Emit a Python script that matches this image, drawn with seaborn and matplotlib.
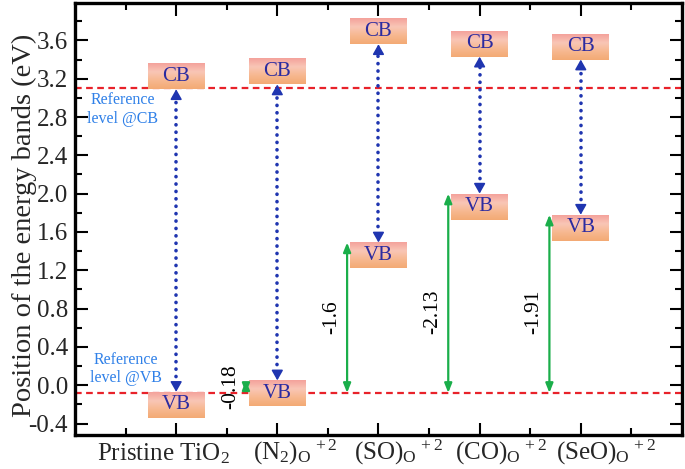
import numpy as np
import pandas as pd
import matplotlib
matplotlib.use('Agg')
import matplotlib.pyplot as plt
from matplotlib.colors import LinearSegmentedColormap
from matplotlib.ticker import MultipleLocator, FixedLocator, NullFormatter
import seaborn as sns

# ---------------- data ----------------
categories = [r'Pristine TiO$_2$',
              r'(N$_2$)$_\mathrm{O}$$^{\,+2}$',
              r'(SO)$_\mathrm{O}$$^{\,+2}$',
              r'(CO)$_\mathrm{O}$$^{\,+2}$',
              r'(SeO)$_\mathrm{O}$$^{\,+2}$']
cb_edge = [3.09, 3.14, 3.56, 3.43, 3.40]      # conduction band minimum (eV)
vb_edge = [-0.07, 0.05, 1.49, 2.00, 1.78]     # valence band maximum (eV)
ref_cb = 3.10
ref_vb = -0.08
shift_labels = ['', '-0.18', '-1.6', '-2.13', '-1.91']
ref_texts = ['Reference\nlevel @CB', 'Reference\nlevel @VB']

# ---------------- style ----------------
sns.set_theme(style='ticks')
plt.rcParams['font.family'] = ['Liberation Serif', 'DejaVu Serif']
plt.rcParams['mathtext.fontset'] = 'custom'
plt.rcParams['mathtext.rm'] = 'Liberation Serif'
plt.rcParams['mathtext.it'] = 'Liberation Serif:italic'
plt.rcParams['mathtext.bf'] = 'Liberation Serif:bold'

box_w = 0.56
box_h = 0.27
red = '#e8222a'
blue_arrow = '#1f35b0'
green = '#1aae4a'
text_blue = '#2b2ba0'
ref_blue = '#2f80e8'
box_cmap = LinearSegmentedColormap.from_list(
    'box', ['#f4a29b', '#f9c6b6', '#f7b890', '#f3aa74'])

fig = plt.figure(figsize=(6.85, 4.69), dpi=100)
ax = fig.add_axes([0.1095, 0.0725, 0.886, 0.921])

xpos = np.arange(1, len(categories) + 1)
xlim = (0, len(categories) + 1)

# reference lines with seaborn
ref_df = pd.DataFrame({'x': list(xlim) * 2,
                       'y': [ref_cb, ref_cb, ref_vb, ref_vb],
                       'lvl': ['CB', 'CB', 'VB', 'VB']})
sns.lineplot(data=ref_df, x='x', y='y', units='lvl', estimator=None,
             color=red, lw=1.6, ax=ax, zorder=2)
for ln in ax.lines:
    ln.set_dashes((3.0, 2.0))

grad = np.linspace(0, 1, 64).reshape(-1, 1)

def draw_box(x, y0, y1, label):
    ax.imshow(grad, extent=[x - box_w / 2, x + box_w / 2, y0, y1],
              aspect='auto', cmap=box_cmap, origin='upper', zorder=3,
              interpolation='bilinear')
    ax.text(x, (y0 + y1) / 2, label, ha='center', va='center',
            fontsize=15, color=text_blue, zorder=4)

head = 0.085
for i, x in enumerate(xpos):
    cb = cb_edge[i]
    vb = vb_edge[i]
    draw_box(x, cb, cb + box_h, 'CB')
    draw_box(x, vb - box_h, vb, 'VB')
    # blue dotted line between bands
    ax.plot([x, x], [vb + head, cb - head], color=blue_arrow, lw=2.6,
            dashes=(0.05, 2.0), dash_capstyle='round', zorder=3)
    for tip, tail in [(cb, cb - head), (vb, vb + head)]:
        ax.annotate('', xy=(x, tip), xytext=(x, tail),
                    arrowprops=dict(arrowstyle='-|>,head_length=0.6,head_width=0.34',
                                    color=blue_arrow, lw=1.2, shrinkA=0, shrinkB=0,
                                    mutation_scale=10), zorder=4)
    # green shift arrow
    if shift_labels[i]:
        gx = x - box_w / 2 - 0.03
        ax.annotate('', xy=(gx, vb), xytext=(gx, ref_vb),
                    arrowprops=dict(arrowstyle='<|-|>,head_length=0.55,head_width=0.22',
                                    color=green, lw=1.6, shrinkA=0, shrinkB=0,
                                    mutation_scale=10), zorder=4)
        ly = min((vb + ref_vb) / 2, 0.77)
        ax.text(gx - 0.15, ly, shift_labels[i], rotation=90, ha='center',
                va='center', fontsize=15.5, color='black', zorder=4)

# reference level annotations
ax.text(0.47, 2.88, ref_texts[0], ha='center', va='center', fontsize=11.5,
        color=ref_blue, linespacing=1.2, zorder=4)
ax.text(0.50, 0.17, ref_texts[1], ha='center', va='center', fontsize=11.5,
        color=ref_blue, linespacing=1.2, zorder=4)

# axes
ax.set_xlim(*xlim)
ax.set_ylim(-0.52, 3.99)
ax.xaxis.set_major_locator(FixedLocator(xpos))
ax.xaxis.set_minor_locator(FixedLocator(list(np.arange(0.5, len(categories) + 1, 1.0))))
ax.xaxis.set_major_formatter(NullFormatter())
ax.yaxis.set_minor_locator(MultipleLocator(0.2))
yt = np.round(np.arange(-0.4, 3.61, 0.4), 1)
ax.set_yticks(yt)
ax.set_yticklabels([f'{v:.1f}' for v in yt], fontsize=18)
ax.set_ylabel('Position of the energy bands (eV)', fontsize=20.5)
ax.yaxis.set_label_coords(-0.063, 0.486)
ax.set_xlabel('')

# category labels under the axis (left-anchored, offset in points)
label_dx_pt = [-57, -17.5, -17.5, -17.5, -17.5]
for x, cat, dx in zip(xpos, categories, label_dx_pt):
    ax.annotate(cat, xy=(x, 0), xycoords=('data', 'axes fraction'),
                xytext=(dx, -18), textcoords='offset points',
                ha='left', va='baseline', fontsize=18, annotation_clip=False)

ax.tick_params(which='both', direction='in', top=True, right=True,
               width=1.5, color='black')
ax.tick_params(which='major', length=9, pad=4)
ax.tick_params(which='minor', length=5)
ax.tick_params(axis='y', which='major', pad=5)
for s in ax.spines.values():
    s.set_visible(True)
    s.set_linewidth(2.4)
    s.set_color('black')

fig.savefig('out.png', dpi=100)
